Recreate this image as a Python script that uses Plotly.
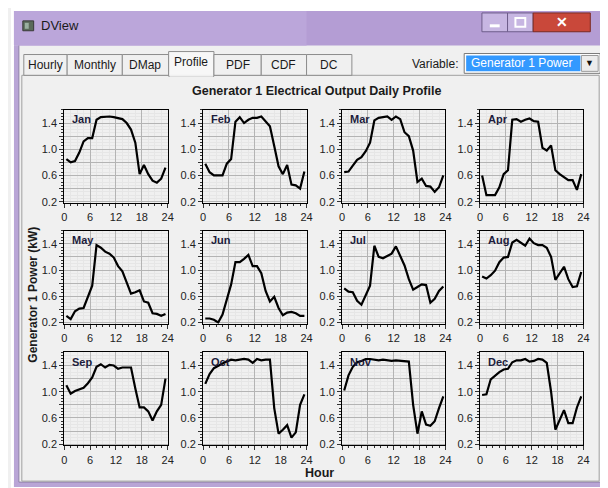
import plotly.graph_objects as go
from plotly.subplots import make_subplots

# ---------------- data ----------------
months = ["Jan", "Feb", "Mar", "Apr", "May", "Jun",
          "Jul", "Aug", "Sep", "Oct", "Nov", "Dec"]
hours = [0.5, 1.5, 2.5, 3.5, 4.5, 5.5, 6.5, 7.5, 8.5, 9.5, 10.5, 11.5,
         12.5, 13.5, 14.5, 15.5, 16.5, 17.5, 18.5, 19.5, 20.5, 21.5, 22.5, 23.5]

jan = [0.85, 0.80, 0.82, 0.95, 1.12, 1.17, 1.17, 1.45, 1.49, 1.50, 1.50, 1.49,
       1.48, 1.46, 1.40, 1.30, 1.10, 0.62, 0.76, 0.62, 0.52, 0.49, 0.55, 0.72]
feb = [0.78, 0.65, 0.60, 0.60, 0.60, 0.78, 0.85, 1.42, 1.49, 1.40, 1.45, 1.48,
       1.48, 1.50, 1.42, 1.35, 1.05, 0.74, 0.62, 0.76, 0.46, 0.45, 0.40, 0.66]
mar = [0.65, 0.66, 0.75, 0.84, 0.88, 0.97, 1.10, 1.44, 1.48, 1.49, 1.50, 1.45,
       1.50, 1.46, 1.26, 1.20, 0.98, 0.50, 0.55, 0.44, 0.43, 0.35, 0.42, 0.60]
apr = [0.60, 0.30, 0.30, 0.30, 0.42, 0.62, 0.68, 1.45, 1.46, 1.42, 1.45, 1.47,
       1.43, 1.42, 1.02, 0.98, 1.06, 0.68, 0.62, 0.57, 0.53, 0.53, 0.38, 0.62]
may = [0.30, 0.25, 0.37, 0.41, 0.42, 0.58, 0.76, 1.38, 1.34, 1.28, 1.25, 1.19,
       1.06, 0.98, 0.80, 0.64, 0.66, 0.69, 0.52, 0.50, 0.34, 0.33, 0.30, 0.33]
jun = [0.26, 0.26, 0.24, 0.20, 0.32, 0.55, 0.78, 1.12, 1.12, 1.17, 1.23, 1.06,
       1.06, 0.95, 0.68, 0.52, 0.59, 0.42, 0.31, 0.35, 0.36, 0.34, 0.30, 0.30]
jul = [0.72, 0.67, 0.66, 0.53, 0.47, 0.62, 0.76, 1.37, 1.20, 1.18, 1.22, 1.25,
       1.36, 1.20, 1.07, 0.86, 0.70, 0.74, 0.78, 0.77, 0.50, 0.56, 0.68, 0.75]
aug = [0.90, 0.87, 0.92, 0.99, 1.12, 1.19, 1.20, 1.42, 1.46, 1.42, 1.37, 1.48,
       1.41, 1.38, 1.38, 1.34, 1.20, 0.85, 0.95, 1.05, 0.86, 0.74, 0.75, 0.97]
sep = [1.10, 0.97, 1.01, 1.03, 1.06, 1.13, 1.22, 1.38, 1.42, 1.37, 1.41, 1.40,
       1.35, 1.37, 1.37, 1.37, 1.05, 0.76, 0.76, 0.70, 0.56, 0.70, 0.80, 1.20]
oct_ = [1.12, 1.27, 1.36, 1.40, 1.43, 1.46, 1.49, 1.48, 1.49, 1.50, 1.49, 1.44,
        1.50, 1.48, 1.49, 1.49, 0.75, 0.36, 0.42, 0.49, 0.30, 0.38, 0.80, 0.96]
nov = [1.02, 1.25, 1.38, 1.45, 1.47, 1.50, 1.50, 1.49, 1.48, 1.49, 1.48, 1.47,
       1.48, 1.47, 1.47, 1.46, 0.80, 0.36, 0.70, 0.50, 0.48, 0.55, 0.75, 0.93]
dec = [0.95, 0.96, 1.19, 1.25, 1.30, 1.34, 1.35, 1.45, 1.48, 1.48, 1.50, 1.46,
       1.47, 1.50, 1.49, 1.44, 1.00, 0.42, 0.58, 0.72, 0.52, 0.52, 0.76, 0.93]
series = [jan, feb, mar, apr, may, jun, jul, aug, sep, oct_, nov, dec]

x_ticks = [0, 6, 12, 18, 24]
y_ticks = [0.2, 0.4, 0.6, 0.8, 1.0, 1.2, 1.4]
y_ticktext = ["0.2", "", "0.6", "", "1.0", "", "1.4"]

tabs = ["Hourly", "Monthly", "DMap", "Profile", "PDF", "CDF", "DC"]

title_text = "Generator 1 Electrical Output Daily Profile"
y_title = "Generator 1 Power (kW)"
x_title = "Hour"

# ---------------- layout helpers ----------------
W, H = 608, 488
FONT = "Liberation Sans, Arial, sans-serif"


def X(p):
    return p / W


def Y(p):
    return 1 - p / H


col_left = [54, 195, 336, 476]
col_w = 105
row_top = [103, 225, 348]
row_h = 94

fig = make_subplots(rows=3, cols=4)

for i, (m, vals) in enumerate(zip(months, series)):
    r, c = i // 4, i % 4
    fig.add_trace(go.Scatter(x=hours, y=vals, mode="lines",
                             line=dict(color="black", width=2.2),
                             showlegend=False, hoverinfo="skip"),
                  row=r + 1, col=c + 1)
    xa = "xaxis" if i == 0 else f"xaxis{i+1}"
    ya = "yaxis" if i == 0 else f"yaxis{i+1}"
    fig.layout[xa].update(
        domain=[X(col_left[c]), X(col_left[c] + col_w)],
        range=[0, 24], tickvals=x_ticks, ticks="outside", ticklen=4,
        tickcolor="#333", showline=True, mirror=True, linecolor="black",
        linewidth=1, showgrid=True, gridcolor="#b4b4b4", gridwidth=1,
        zeroline=False, tickfont=dict(family=FONT, size=11, color="#222"),
        minor=dict(dtick=1.5, showgrid=True, gridcolor="#e6e6e6",
                   ticks="outside", ticklen=2, tickcolor="#333"),
        fixedrange=True)
    fig.layout[ya].update(
        domain=[Y(row_top[r] + row_h), Y(row_top[r])],
        range=[0.18, 1.6], tickvals=y_ticks, ticktext=y_ticktext,
        ticks="outside", ticklen=4, tickcolor="#333", showline=True,
        mirror=True, linecolor="black", linewidth=1, showgrid=True,
        gridcolor="#b4b4b4", gridwidth=1, zeroline=False,
        tickfont=dict(family=FONT, size=11, color="#222"),
        minor=dict(dtick=0.05, showgrid=True, gridcolor="#e6e6e6",
                   ticks="outside", ticklen=2, tickcolor="#333"),
        fixedrange=True)
    xref = "x domain" if i == 0 else f"x{i+1} domain"
    yref = "y domain" if i == 0 else f"y{i+1} domain"
    fig.add_annotation(x=0.06, y=0.985, xref=xref, yref=yref,
                       xanchor="left", yanchor="top", showarrow=False,
                       text=f"<b>{m}</b>",
                       font=dict(family=FONT, size=11, color="#1c1c3c"))

shapes = []


def rect(x0, y0, x1, y1, fill, line=None, lw=1):
    shapes.append(dict(type="rect", xref="paper", yref="paper",
                       x0=X(x0), x1=X(x1), y0=Y(y1), y1=Y(y0),
                       fillcolor=fill,
                       line=dict(color=line or fill, width=lw if line else 0),
                       layer="below"))


def hline(x0, x1, y, color, lw=1):
    shapes.append(dict(type="line", xref="paper", yref="paper",
                       x0=X(x0), x1=X(x1), y0=Y(y), y1=Y(y),
                       line=dict(color=color, width=lw), layer="below"))


def vline(x, y0, y1, color, lw=1):
    shapes.append(dict(type="line", xref="paper", yref="paper",
                       x0=X(x), x1=X(x), y0=Y(y0), y1=Y(y1),
                       line=dict(color=color, width=lw), layer="below"))


# outer white margins
rect(0, 0, 608, 3, "white")
rect(0, 0, 3, 488, "white")
rect(604, 0, 608, 488, "white")
rect(0, 484, 608, 488, "white")
# window frame (lavender)
rect(3, 3, 604, 38, "#b49dd4")
rect(3, 3, 300, 38, "#bba6da")
rect(3, 38, 8, 484, "#b9a5d6")
rect(599, 38, 604, 484, "#b9a5d6")
rect(3, 479, 604, 484, "#b9a5d6")
vline(8, 38, 479, "#8f80a8")
vline(599, 38, 479, "#8f80a8")
hline(8, 599, 479, "#8f80a8")
# title-bar icon
rect(12, 13, 23, 23, "#5a6a5a", "#3a3a3a")
rect(14, 15, 18, 21, "#9ab0a0")
# window buttons
rect(478, 5, 504, 24, "#c7b6e2", "#6d5c8a")
rect(504, 5, 530, 24, "#c7b6e2", "#6d5c8a")
rect(530, 5, 588, 24, "#c9483a", "#7a2a22")
hline(486, 496, 18, "white", 3)
rect(512, 10, 522, 19, "rgba(0,0,0,0)", "white", 2)

# content panel border
rect(11, 68, 597, 478, "#f0f0f0", "#a0a0a0")

# tabs
tab_x = [(13, 57), (57, 113), (113, 160), (160, 206), (206, 254), (254, 300), (300, 346)]
for k, (t, (a, b)) in enumerate(zip(tabs, tab_x)):
    if t == "Profile":
        rect(a, 44, b, 69, "#f7f7f7", "#8d8d8d")
    else:
        rect(a, 47, b, 68, "#f0f0f0", "#8d8d8d")
# erase line under selected tab
hline(161, 205, 68.5, "#f0f0f0", 2)

# dropdown
rect(460, 46, 598, 66, "white", "#7a7a7a")
rect(462, 48, 578, 64, "#3399ff")
rect(579, 48, 596, 64, "#ececec", "#9a9a9a")

fig.update_layout(shapes=shapes)

ann = []


def text(x, y, s, size=12, color="black", bold=False, anchor="center",
         angle=0):
    ann.append(dict(x=X(x), y=Y(y), xref="paper", yref="paper",
                    text=f"<b>{s}</b>" if bold else s, showarrow=False,
                    xanchor=anchor, yanchor="middle", textangle=angle,
                    font=dict(family=FONT, size=size, color=color)))


text(28, 18, "DView", 13, "#1a1a1a", anchor="left")
text(491, 14, "", 11, "white")
text(559, 14, "✕", 14, "white", bold=True)
for t, (a, b) in zip(tabs, tab_x):
    yy = 55 if t == "Profile" else 58
    text((a + b) / 2, yy, t, 12, "#1a1a1a")
text(456, 57, "Variable:", 12, "#1a1a1a", anchor="right")
text(465, 56, "Generator 1 Power", 12, "white", anchor="left")
text(587.5, 56, "▼", 9, "#111")

text(310, 84, title_text, 12.5, "#1a1a1a", bold=True)
text(22, 290, y_title, 12, "#1a1a1a", bold=True, angle=-90)
text(313, 470, x_title, 12.5, "#1a1a1a", bold=True)

for a_ in ann:
    fig.add_annotation(**a_)

fig.update_layout(width=W, height=H, margin=dict(l=0, r=0, t=0, b=0),
                  paper_bgcolor="#f0f0f0", plot_bgcolor="white",
                  font=dict(family=FONT), showlegend=False)

fig.write_html("out.html")
